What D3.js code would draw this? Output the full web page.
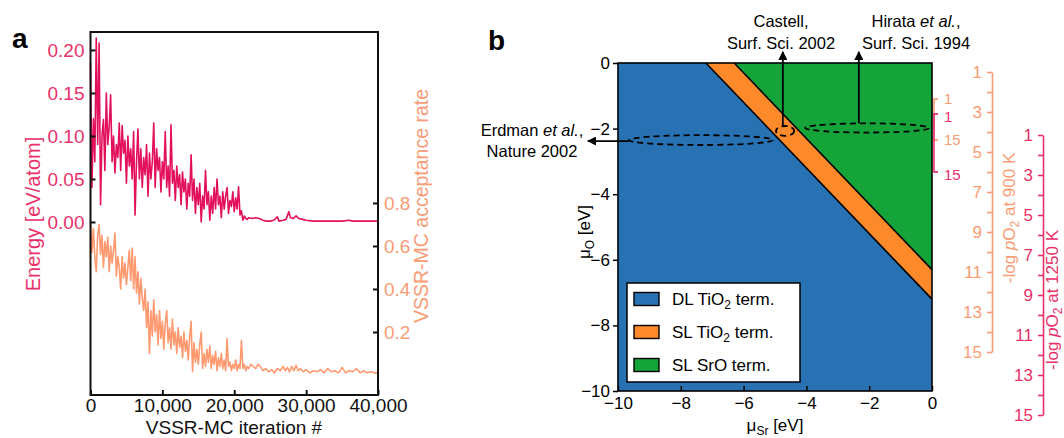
<!DOCTYPE html>
<html><head><meta charset="utf-8">
<script src="https://cdn.jsdelivr.net/npm/d3@7"></script>
<style>
body{margin:0;background:#fff}
svg{display:block}
text{font-family:"Liberation Sans",Arial,sans-serif}
</style>
</head><body>
<svg id="c" width="1064" height="438"></svg>
<script>
// ---------------- DATA ----------------
// Panel a: energy vs iteration
const energyIter = [0,200,400,600,800,1000,1200,1400,1600,1800,2000,2200,2400,2600,2800,3000,3200,3400,3600,3800,4000,4200,4400,4600,4800,5000,5200,5400,5600,5800,6000,6200,6400,6600,6800,7000,7200,7400,7600,7800,8000,8200,8400,8600,8800,9000,9200,9400,9600,9800,10000,10200,10400,10600,10800,11000,11200,11400,11600,11800,12000,12200,12400,12600,12800,13000,13200,13400,13600,13800,14000,14200,14400,14600,14800,15000,15200,15400,15600,15800,16000,16200,16400,16600,16800,17000,17200,17400,17600,17800,18000,18200,18400,18600,18800,19000,19200,19400,19600,19800,20000,20200,20400,20600,20800,21000,
21200,21400,21600,21800,22000,22500,23000,23500,24000,24500,25000,25500,26000,26200,26800,27200,27600,27800,28200,28600,29000,29500,30000,31000,32000,33000,34000,35000,36000,36500,37000,38000,39000,40000];
const energyVal = [0.185,0.04,0.12,0.07,0.214,0.09,0.208,0.02,0.10,0.119,
0.06,0.15,0.09,0.11,0.148,0.07,0.10,0.057,0.09,0.075,
0.115,0.06,0.112,0.08,0.095,0.045,0.10,0.065,0.085,0.05,
0.105,0.008,0.07,0.108,0.05,0.085,0.04,0.075,0.055,0.09,
0.03,0.08,0.05,0.07,0.115,0.04,0.085,0.06,0.075,0.035,
0.07,0.05,0.105,0.04,0.065,0.03,0.113,0.045,0.06,0.025,
0.065,0.04,0.055,0.02,0.058,0.035,0.05,0.015,0.045,0.03,
0.078,0.025,0.05,0.01,0.04,0.02,0.045,0.0,0.03,0.015,
0.06,0.02,0.035,0.002,0.03,0.01,0.04,0.015,0.05,0.02,
0.03,0.005,0.035,0.015,0.03,0.04,0.01,0.025,0.018,0.035,
0.012,0.028,0.015,0.041,0.008,0.013,
0.002,0.007,0.004,0.003,0.005,0.004,0.005,0.004,0.002,0.001,0.001,0.002,0.006,0.001,0.002,0.003,0.012,0.005,0.004,0.007,0.004,0.003,0.002,0.001,0.001,0.001,0.001,0.001,0.002,0.001,0.001,0.001,0.001,0.001];

// Panel a: acceptance rate vs iteration
const accIter = [0,200,400,600,800,1000,1200,1400,1600,1800,2000,2200,2400,2600,2800,3000,3200,3400,3600,3800,4000,4200,4400,4600,4800,5000,5200,5400,5600,5800,6000,6200,6400,6600,6800,7000,7200,7400,7600,7800,8000,8200,8400,8600,8800,9000,9200,9400,9600,9800,10000,10200,10400,10600,10800,11000,11200,11400,11600,11800,12000,12200,12400,12600,12800,13000,13200,13400,13600,13800,14000,14200,14400,14600,14800,15000,15200,15400,15600,15800,16000,16200,16400,16600,16800,17000,17200,17400,17600,17800,18000,18200,18400,18600,18800,19000,19200,19400,19600,19800,20000,20200,20400,20600,20800,21000,
21200,21400,21600,21800,22000,22300,22600,23000,23300,23600,24000,24400,24800,25200,25600,26000,26400,26800,27100,27400,27700,28000,28300,28600,28900,29200,29600,30000,30500,31000,31500,32000,32500,33000,33500,34000,34500,35000,35500,36000,36500,37000,37500,38000,38500,39000,39500,40000];
const accVal = [0.71,0.57,0.68,0.55,0.48,0.65,0.70,0.56,0.65,0.50,
0.62,0.55,0.64,0.48,0.60,0.52,0.58,0.66,0.46,0.55,
0.50,0.40,0.55,0.45,0.52,0.42,0.50,0.58,0.44,0.59,
0.40,0.55,0.38,0.48,0.33,0.45,0.36,0.30,0.40,0.22,
0.34,0.10,0.30,0.18,0.35,0.20,0.28,0.14,0.30,0.17,
0.25,0.12,0.24,0.30,0.15,0.22,0.12,0.26,0.14,0.20,
0.10,0.22,0.13,0.18,0.08,0.20,0.11,0.16,0.07,0.18,
0.25,0.015,0.15,0.06,0.12,0.05,0.14,0.20,0.03,0.10,
0.04,0.12,0.06,0.135,0.03,0.09,0.05,0.11,0.02,0.08,
0.04,0.10,0.03,0.07,0.02,0.17,0.04,0.06,0.02,0.05,
0.03,0.07,0.02,0.05,0.03,0.16,
0.03,0.05,0.02,0.04,0.03,0.05,0.04,0.03,0.05,0.04,0.02,0.03,0.015,0.025,0.01,0.03,0.02,0.04,0.02,0.035,0.015,0.04,0.02,0.045,0.02,0.03,0.015,0.025,0.01,0.02,0.015,0.025,0.01,0.03,0.015,0.02,0.01,0.035,0.01,0.02,0.015,0.03,0.01,0.02,0.01,0.015,0.01,0.01];

const iterTicks = [0,10000,20000,30000,40000];
const energyTicks = [0,0.05,0.10,0.15,0.20];
const accTicks = [0.2,0.4,0.6,0.8];

// Panel b: phase boundaries, written as muO + muSr = c
const boundaryC = [-7.2, -6.3];
const phaseNames = [["DL TiO","2"," term."],["SL TiO","2"," term."],["SL SrO term.","",""]];
const muTicks = [-10,-8,-6,-4,-2,0];
const pTicks = [1,2,3,4,5,6,7,8,9,10,11,12,13,14,15];
const pLabelTicks = [1,3,5,7,9,11,13,15];
// mini pO2 brackets: -log pO2 range [1,15] mapped to muO
const mini900 = [-1.10, -2.35];
const mini1250 = [-1.55, -3.32];
// annotations: dashed ellipses (muSr, muO centre; radii in data units)
const ellipses = [
  {cx:-7.36, cy:-2.35, rx:2.29, ry:0.15},
  {cx:-4.68, cy:-2.07, rx:0.29, ry:0.15},
  {cx:-2.07, cy:-1.98, rx:1.97, ry:0.14}
];

// ---------------- DRAW ----------------
const svg = d3.select("#c");
const PINK = "#e3105c", SALMON = "#ff9a70";
const PINKTXT = "#e8306a", SALMONTXT = "#f99c76";

// ===== Panel a =====
const xA = d3.scaleLinear().domain([0,40000]).range([90.5,378]);
const yE = d3.scaleLinear().domain([-0.2012,0.2209]).range([395,32]);
const yR = d3.scaleLinear().domain([-0.093,1.595]).range([395,32]);
const gA = svg.append("g");

const lineAcc = d3.line().x((d,i)=>xA(accIter[i])).y(d=>yR(d));
gA.append("path").attr("d", lineAcc(accVal)).attr("fill","none")
  .attr("stroke",SALMON).attr("stroke-width",1.6).attr("stroke-linejoin","round");
const lineE = d3.line().x((d,i)=>xA(energyIter[i])).y(d=>yE(d));
gA.append("path").attr("d", lineE(energyVal)).attr("fill","none")
  .attr("stroke",PINK).attr("stroke-width",1.6).attr("stroke-linejoin","round");

gA.append("rect").attr("x",xA(0)).attr("y",32).attr("width",xA(40000)-xA(0)).attr("height",363)
  .attr("fill","none").attr("stroke","#111").attr("stroke-width",2);

const axL = gA.append("g").attr("transform",`translate(${xA(0)},0)`)
  .call(d3.axisLeft(yE).tickValues(energyTicks).tickSizeInner(-5).tickSizeOuter(0).tickPadding(6).tickFormat(d3.format(".2f")));
const axB = gA.append("g").attr("transform","translate(0,395)")
  .call(d3.axisBottom(xA).tickValues(iterTicks).tickSizeInner(-5).tickSizeOuter(0).tickPadding(4).tickFormat(d3.format(",")));
const axR = gA.append("g").attr("transform",`translate(${xA(40000)},0)`)
  .call(d3.axisRight(yR).tickValues(accTicks).tickSizeInner(-5).tickSizeOuter(0).tickPadding(6).tickFormat(d3.format(".1f")));
[axL,axB,axR].forEach(a=>{a.select(".domain").remove(); a.selectAll("line").attr("stroke","#111").attr("stroke-width",2);
  a.selectAll("text").style("font-size","19px").style("font-family",'"Liberation Sans",Arial,sans-serif');});
axL.selectAll("text").attr("fill",PINKTXT);
axR.selectAll("text").attr("fill",SALMONTXT);
axB.selectAll("text").attr("fill","#111");

gA.append("text").attr("transform","translate(40,214) rotate(-90)").attr("text-anchor","middle")
  .attr("fill",PINKTXT).style("font-size","20px").text("Energy [eV/atom]");
gA.append("text").attr("transform","translate(428,206) rotate(-90)").attr("text-anchor","middle")
  .attr("fill",SALMONTXT).style("font-size","19.5px").text("VSSR-MC acceptance rate");
gA.append("text").attr("x",234).attr("y",434).attr("text-anchor","middle")
  .attr("fill","#111").style("font-size","19px").text("VSSR-MC iteration #");
gA.append("text").attr("x",12).attr("y",48).attr("fill","#000").style("font-size","28px").style("font-weight","bold").text("a");

// ===== Panel b =====
const xB = d3.scaleLinear().domain([-10,0]).range([618,932]);
const yB = d3.scaleLinear().domain([-10,0]).range([391,63]);
const gB = svg.append("g");
const colors = ["#2872b4","#fd8a2a","#15a43a"];
const [c1,c2] = boundaryC;
const polys = [
  [[-10,-10],[-10,0],[c1,0],[0,c1],[0,-10]],
  [[c1,0],[c2,0],[0,c2],[0,c1]],
  [[c2,0],[0,0],[0,c2]]
];
const lineP = d3.line().x(d=>xB(d[0])).y(d=>yB(d[1]));
polys.forEach((p,i)=>gB.append("path").attr("d",lineP(p)+"Z").attr("fill",colors[i]).attr("stroke","none"));
boundaryC.forEach(c=>gB.append("path").attr("d",lineP([[c,0],[0,c]])).attr("stroke","#000").attr("stroke-width",1.6).attr("fill","none"));

// legend
const lg = gB.append("g");
lg.append("rect").attr("x",627).attr("y",283).attr("width",173).attr("height",99)
  .attr("fill","#fff").attr("stroke","#000").attr("stroke-width",1.5);
phaseNames.forEach((n,i)=>{
  const cy = 299 + i*33;
  lg.append("rect").attr("x",634).attr("y",cy-6.5).attr("width",25).attr("height",13)
    .attr("fill",colors[i]).attr("stroke","#000").attr("stroke-width",1.4);
  const t = lg.append("text").attr("x",672).attr("y",cy+6).attr("fill","#000").style("font-size","17px");
  t.append("tspan").text(n[0]);
  if(n[1]){ t.append("tspan").attr("dy",4).style("font-size","12px").text(n[1]);
    t.append("tspan").attr("dy",-4).text(n[2]); }
});

// frame
gB.append("rect").attr("x",xB(-10)).attr("y",yB(0)).attr("width",xB(0)-xB(-10)).attr("height",yB(-10)-yB(0))
  .attr("fill","none").attr("stroke","#000").attr("stroke-width",1.6);

const bx = gB.append("g").attr("transform",`translate(0,${yB(-10)})`)
  .call(d3.axisBottom(xB).tickValues(muTicks).tickSizeInner(-5).tickSizeOuter(0).tickPadding(6));
const by = gB.append("g").attr("transform",`translate(${xB(-10)},0)`)
  .call(d3.axisLeft(yB).tickValues(muTicks).tickSizeInner(5).tickSizeOuter(0).tickPadding(3));
[bx,by].forEach(a=>{a.select(".domain").remove(); a.selectAll("line").attr("stroke","#000").attr("stroke-width",1.5);
  a.selectAll("text").attr("fill","#000").style("font-size","17px").style("font-family",'"Liberation Sans",Arial,sans-serif');});

const xl = gB.append("text").attr("x",775).attr("y",431).attr("text-anchor","middle").style("font-size","17px").attr("fill","#000");
xl.append("tspan").text("μ"); xl.append("tspan").attr("dy",4).style("font-size","12px").text("Sr");
xl.append("tspan").attr("dy",-4).text(" [eV]");
const yl = gB.append("text").attr("transform","translate(590,232) rotate(-90)").attr("text-anchor","middle").style("font-size","17px").attr("fill","#000");
yl.append("tspan").text("μ"); yl.append("tspan").attr("dy",4).style("font-size","12px").text("O");
yl.append("tspan").attr("dy",-4).text(" [eV]");

gB.append("text").attr("x",488).attr("y",50).attr("fill","#000").style("font-size","28px").style("font-weight","bold").text("b");

// ellipses and arrows
const defs = svg.append("defs");
defs.append("marker").attr("id","ah").attr("viewBox","0 0 10 10").attr("refX",9).attr("refY",5)
  .attr("markerWidth",9).attr("markerHeight",9).attr("markerUnits","userSpaceOnUse").attr("orient","auto")
  .append("path").attr("d","M0,0L10,5L0,10Z").attr("fill","#000");
ellipses.forEach(e=>{
  gB.append("ellipse").attr("cx",xB(e.cx)).attr("cy",yB(e.cy))
    .attr("rx",xB(e.rx)-xB(0)).attr("ry",yB(0)-yB(e.ry))
    .attr("fill","none").attr("stroke","#000").attr("stroke-width",1.8).attr("stroke-dasharray","6,4");
});
const arrows = [
  [[-9.65,-2.38],[-10.96,-2.38]],
  [[-4.75,-1.93],[-4.75,0.34]],
  [[-2.33,-1.84],[-2.33,0.34]]
];
arrows.forEach(a=>gB.append("path").attr("d",lineP(a)).attr("stroke","#000").attr("stroke-width",1.8)
  .attr("fill","none").attr("marker-end","url(#ah)"));

function richLine(x,y,parts){
  const t = gB.append("text").attr("x",x).attr("y",y).attr("text-anchor","middle").attr("fill","#000").style("font-size","16.5px");
  parts.forEach(p=>{const s=t.append("tspan").text(p[0]); if(p[1]) s.style("font-style","italic");});
}
richLine(532,136,[["Erdman "],["et al.",1],[","]]);
richLine(532,157,[["Nature 2002"]]);
richLine(781,27,[["Castell,"]]);
richLine(781,49,[["Surf. Sci. 2002"]]);
richLine(916,27,[["Hirata "],["et al.",1],[","]]);
richLine(916,49,[["Surf. Sci. 1994"]]);

// mini pO2 brackets next to plot
function miniBracket(range,color,x,dy){
  const s = d3.scaleLinear().domain([1,15]).range(range);
  const y1 = yB(s(1)), y2 = yB(s(15));
  gB.append("path").attr("d",`M${x+4},${y1}H${x}V${y2}H${x+4}`).attr("fill","none").attr("stroke",color).attr("stroke-width",1.6);
  [1,15].forEach(v=>gB.append("text").attr("x",x+10).attr("y",yB(s(v))).attr("dy",dy)
    .attr("fill",color).style("font-size","15px").text(v));
}
miniBracket(mini900, SALMONTXT, 934, "0.3em");
miniBracket(mini1250, PINKTXT, 934, "0.55em");

// big pO2 axes
function pAxis(x, r0, r1, color){
  const s = d3.scaleLinear().domain([1,15]).range([r0,r1]);
  const a = gB.append("g").attr("transform",`translate(${x},0)`)
    .call(d3.axisLeft(s).tickValues(pTicks).tickSizeInner(5).tickSizeOuter(0).tickPadding(5)
      .tickFormat(d=>pLabelTicks.includes(d)?d:""));
  a.select(".domain").attr("stroke",color).attr("stroke-width",1.6);
  a.selectAll("line").attr("stroke",color).attr("stroke-width",1.6);
  a.selectAll("text").attr("fill",color).style("font-size","17px").style("font-family",'"Liberation Sans",Arial,sans-serif');
}
pAxis(992, 72, 352, SALMONTXT);
pAxis(1043, 135, 415, PINKTXT);

function pLabel(x,y,temp,color){
  const t = gB.append("text").attr("transform",`translate(${x},${y}) rotate(-90)`).attr("text-anchor","middle")
    .attr("fill",color).style("font-size","17px");
  t.append("tspan").text("-log ");
  t.append("tspan").style("font-style","italic").text("p");
  t.append("tspan").text("O");
  t.append("tspan").attr("dy",4).style("font-size","12px").text("2");
  t.append("tspan").attr("dy",-4).text(" at "+temp+" K");
}
pLabel(1015, 218, "900", SALMONTXT);
pLabel(1058, 300, "1250", PINKTXT);
</script>
</body></html>
